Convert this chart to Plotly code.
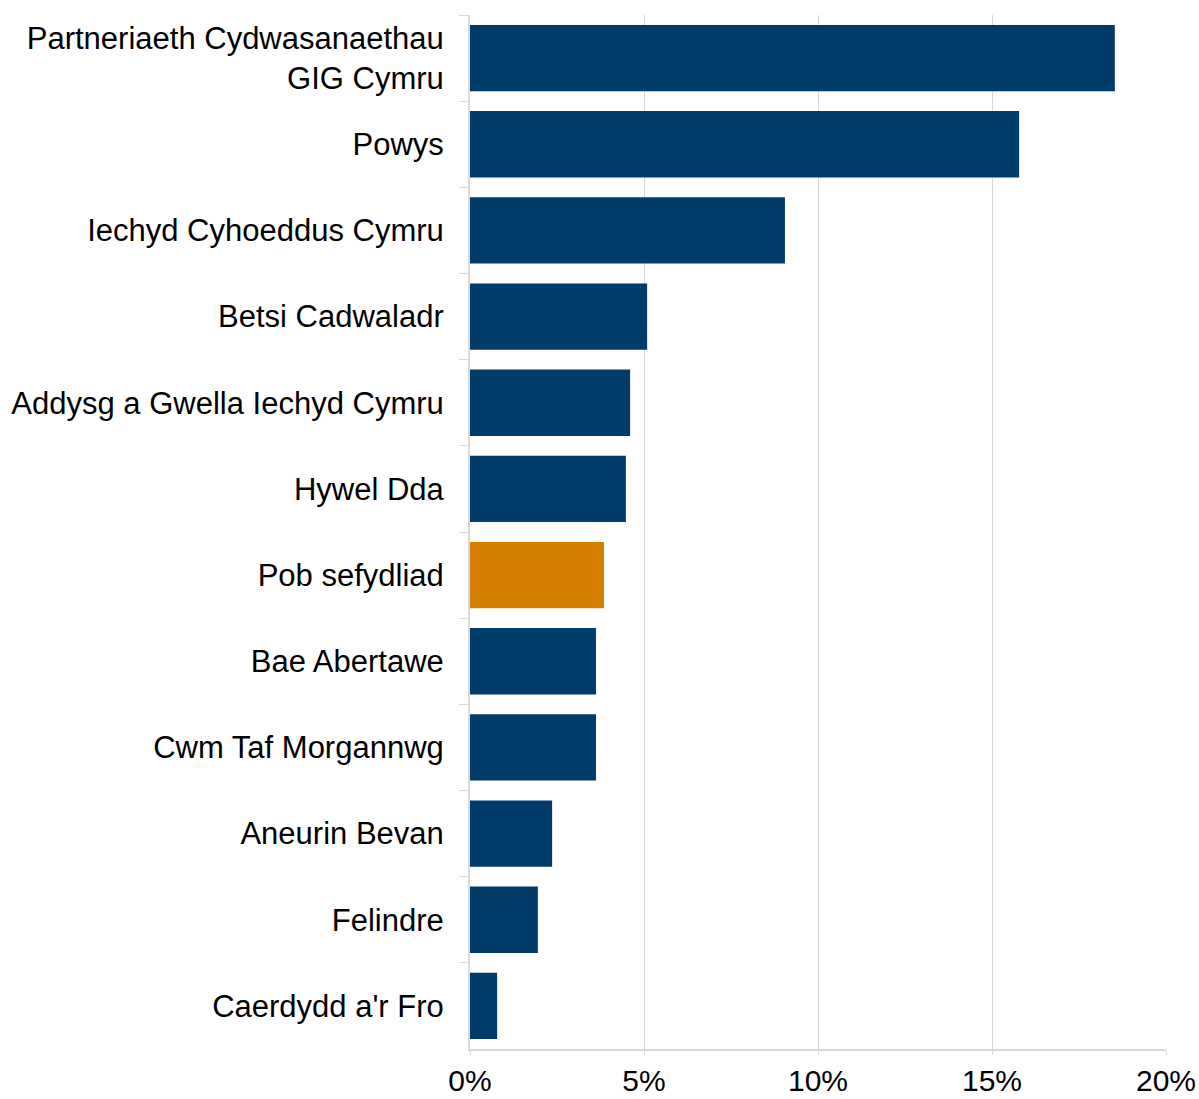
import plotly.graph_objects as go

categories = [
    "Partneriaeth Cydwasanaethau<br>GIG Cymru",
    "Powys",
    "Iechyd Cyhoeddus Cymru",
    "Betsi Cadwaladr",
    "Addysg a Gwella Iechyd Cymru",
    "Hywel Dda",
    "Pob sefydliad",
    "Bae Abertawe",
    "Cwm Taf Morgannwg",
    "Aneurin Bevan",
    "Felindre",
    "Caerdydd a'r Fro",
]
values = [18.53, 15.78, 9.05, 5.09, 4.60, 4.48, 3.85, 3.62, 3.62, 2.36, 1.95, 0.78]
highlight = "Pob sefydliad"

colors = ["#D47F00" if c == highlight else "#003B6A" for c in categories]

fig = go.Figure(go.Bar(
    x=[v / 100 for v in values],
    y=categories,
    orientation="h",
    marker=dict(color=colors, line=dict(width=0)),
    hoverinfo="x+y",
))

fig.update_layout(
    width=1199, height=1099,
    margin=dict(l=470, r=33, t=15, b=50, autoexpand=False),
    paper_bgcolor="white", plot_bgcolor="white",
    bargap=0.23,
    showlegend=False,
    font=dict(family="Liberation Sans, Arial, sans-serif", size=31, color="black"),
)
fig.update_xaxes(
    range=[0, 0.2], tickformat=".0%", dtick=0.05,
    showgrid=True, gridcolor="#d9d9d9", gridwidth=1,
    showline=True, linecolor="#d9d9d9", linewidth=2,
    ticks="outside", ticklen=4, tickcolor="#d9d9d9",
    tickfont=dict(size=30),
    zeroline=False, automargin=False,
)
fig.update_yaxes(
    autorange="reversed", tickson="boundaries",
    showline=True, linecolor="#d9d9d9", linewidth=2,
    ticks="outside", ticklen=9, tickcolor="#d9d9d9",
    showgrid=False, ticklabelstandoff=18, automargin=False,
)

fig.write_html(
    "out.html",
    config={"displayModeBar": False},
    post_script="document.body.style.margin='0';document.body.style.overflow='hidden';",
)
